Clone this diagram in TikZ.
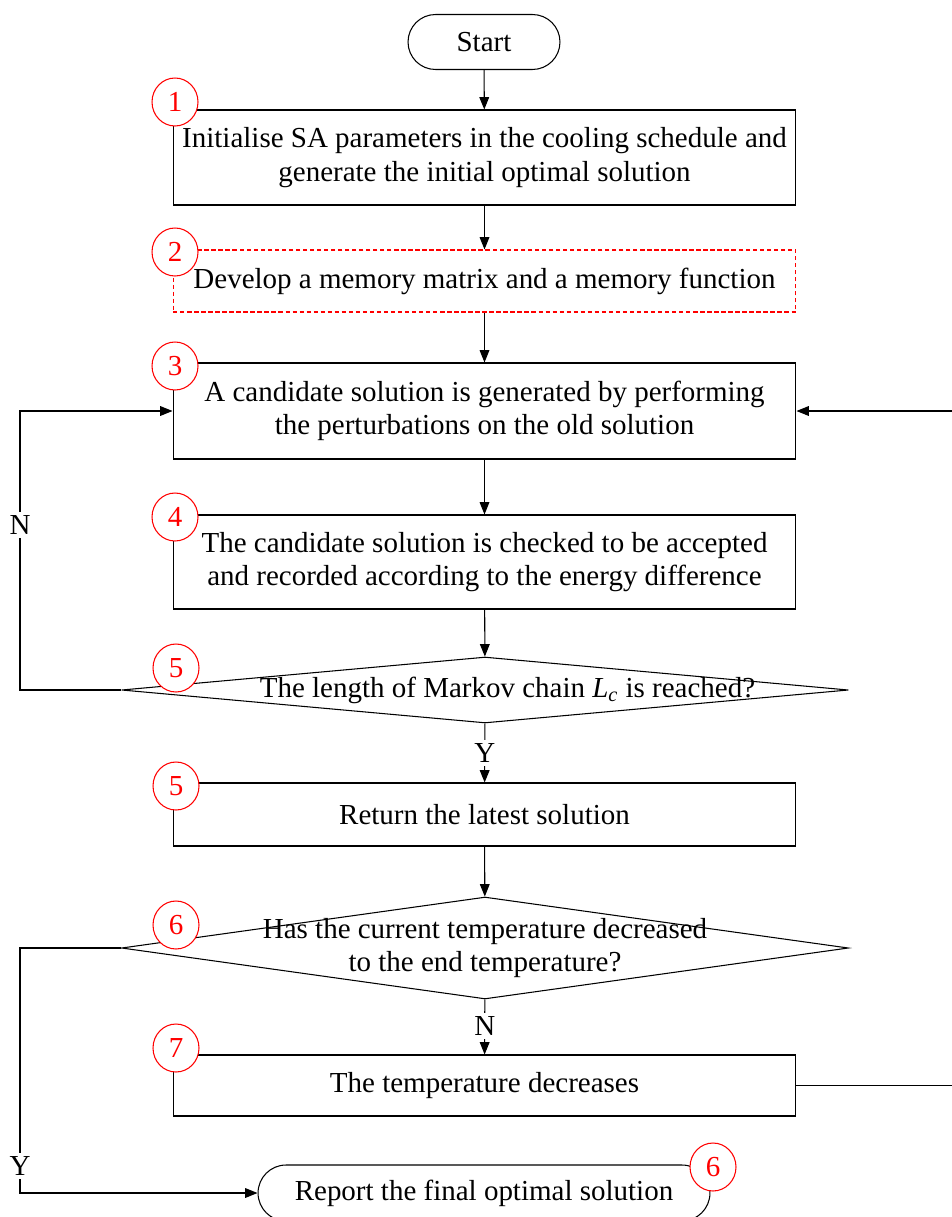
\documentclass[tikz,border=0pt]{standalone}
\usepackage{fontspec}
\setmainfont{Liberation Serif}
\usetikzlibrary{shapes.geometric,shapes.misc,arrows.meta}

\begin{document}
\begin{tikzpicture}[x=0.02cm, y=-0.02cm, line width=0.6pt,
  every node/.style={font=\fontsize{16.5}{19}\selectfont},
  box/.style={draw, rectangle, minimum width=12.46cm, align=center, inner sep=0pt},
  dec/.style={draw, diamond, minimum width=14.54cm, inner sep=0pt},
  term/.style={draw, rounded rectangle, minimum height=1.1cm, inner sep=0pt},
  num/.style={draw=red, text=red, fill=white, ellipse, minimum width=0.92cm, minimum height=0.96cm, inner sep=0pt},
  arr/.style={-{Triangle[length=7pt,width=5.5pt]}},
  yn/.style={fill=white, inner sep=2pt}]
  \useasboundingbox (0,0) rectangle (952,1217);

  % boxes
  \node [term, minimum width=3.04cm] (start) at (484,42) {Start};
  \node [box, minimum height=1.9cm] (init) at (484.5,157.5) {Initialise SA parameters in the cooling schedule and\\generate the initial optimal solution};
  \node [box, minimum height=1.24cm, draw=red, dash pattern=on 2.5pt off 1.5pt] (memory) at (484.5,281) {Develop a memory matrix and a memory function};
  \node [box, minimum height=1.92cm] (perturb) at (484.5,411) {A candidate solution is generated by performing\\the perturbations on the old solution};
  \node [box, minimum height=1.88cm] (accept) at (484.5,562) {The candidate solution is checked to be accepted\\and recorded according to the energy difference};
  \node [dec, minimum height=1.32cm, label={[xshift=0.45cm]center:The length of Markov chain \textit{L}\textsubscript{\textit{c}} is reached?}] (chain) at (485,690) {};
  \node [box, minimum height=1.26cm] (latest) at (484.5,814.5) {Return the latest solution};
  \node [dec, minimum height=2.04cm, label={[align=center]center:Has the current temperature decreased\\to the end temperature?}] (temp) at (485,948) {};
  \node [box, minimum height=1.22cm] (cool) at (484.5,1085.5) {The temperature decreases};
  \node [term, minimum width=9.04cm, minimum height=1.12cm] (report) at (484,1193) {Report the final optimal solution};

  % connectors
  \coordinate (left5) at (20,690);
  \coordinate (left6) at (20,948);
  \coordinate (right7) at (958,1085.5);
  \draw [arr] (start) -- (init);
  \draw [arr] (init) -- (memory);
  \draw [arr] (memory) -- (perturb);
  \draw [arr] (perturb) -- (accept);
  \draw [arr] (accept) -- (chain);
  \draw [arr] (chain) -- node [yn] {Y} (latest);
  \draw [arr] (latest) -- (temp);
  \draw [arr] (temp) -- node [yn, pos=0.48] {N} (cool);
  \draw [arr] (chain.west) -- (left5) -- node [yn, pos=0.59] {N} (left5 |- perturb.west) -- (perturb.west);
  \draw [arr] (cool.east) -- (right7) -- (right7 |- perturb.east) -- (perturb.east);
  \draw [arr] (temp.west) -- (left6) -- node [yn, pos=0.89] {Y} (left6 |- report.west) -- (report.west);

  % step numbers
  \node [num] (n1) at (175,102) {1};
  \node [num] (n2) at (175,252) {2};
  \node [num] (n3) at (175,366) {3};
  \node [num] (n4) at (175,517) {4};
  \node [num] (n5a) at (176,668) {5};
  \node [num] (n5b) at (176,786) {5};
  \node [num] (n6a) at (176,925) {6};
  \node [num] (n7) at (176,1048) {7};
  \node [num] (n6b) at (713,1167) {6};
\end{tikzpicture}
\end{document}
